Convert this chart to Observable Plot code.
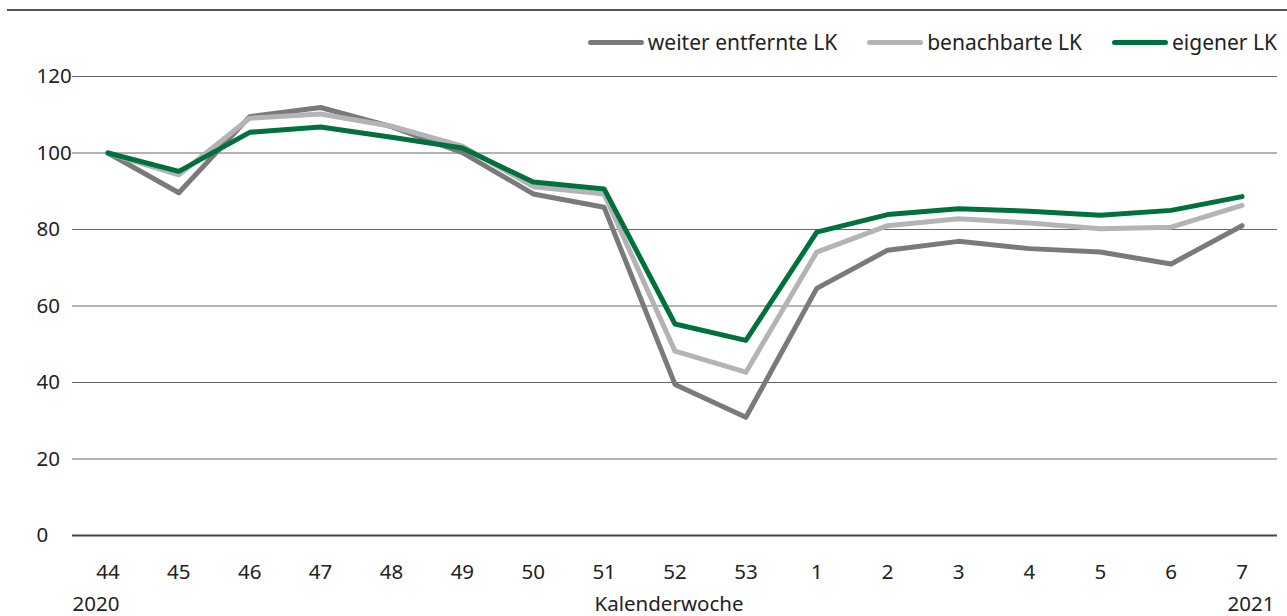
<!DOCTYPE html>
<html>
<head>
<meta charset="utf-8">
<script src="https://cdn.jsdelivr.net/npm/d3@7"></script>
<script src="https://cdn.jsdelivr.net/npm/@observablehq/plot@0.6"></script>
<style>
  html, body { margin: 0; padding: 0; background: #fff; }
  body { width: 1287px; height: 616px; overflow: hidden; font-family: "Noto Sans", sans-serif; color: #222; }
  #head { position: relative; height: 56px; }
  #topline { position: absolute; left: 7px; right: 0; top: 9px; height: 2px; background: #555; }
  #legend { position: absolute; right: 10px; top: 29px; display: flex; align-items: center; font-size: 21px; line-height: 26px; }
  .item { display: flex; align-items: center; margin-left: 30px; }
  .sw { width: 56px; height: 5px; border-radius: 3px; margin-right: 4px; }
  svg { display: block; }
</style>
</head>
<body>
<div id="head"><div id="topline"></div><div id="legend"></div></div>
<div id="chart"></div>
<script>
const weeks = ["44","45","46","47","48","49","50","51","52","53","1","2","3","4","5","6","7"];
const seriesNames = ["weiter entfernte LK", "benachbarte LK", "eigener LK"];
const seriesColors = ["#7a7a7c", "#b4b4b6", "#00703c"];
const weiterEntfernt = [100, 89.6, 109.5, 111.9, 106.9, 100.1, 89.3, 85.8, 39.5, 30.9, 64.6, 74.6, 76.9, 75.0, 74.1, 71.0, 81.0];
const benachbart    = [100, 94.3, 109.1, 110.2, 107.0, 101.8, 91.2, 89.3, 48.2, 42.7, 74.1, 81.0, 82.8, 81.7, 80.2, 80.6, 86.3];
const eigener       = [100, 95.2, 105.4, 106.8, 104.1, 101.3, 92.4, 90.6, 55.3, 51.0, 79.3, 83.9, 85.4, 84.8, 83.7, 85.0, 88.6];
const yTicks = [0, 20, 40, 60, 80, 100, 120];
const yearLabels = ["2020", "2021"];
const axisTitle = "Kalenderwoche";

const values = [weiterEntfernt, benachbart, eigener];
const data = [];
values.forEach((arr, s) => arr.forEach((v, i) => data.push({week: weeks[i], value: v, series: seriesNames[s]})));

// legend
const legend = document.getElementById("legend");
seriesNames.forEach((n, i) => {
  const it = document.createElement("div");
  it.className = "item";
  it.innerHTML = `<span class="sw" style="background:${seriesColors[i]}"></span><span>${n}</span>`;
  legend.appendChild(it);
});

const font = "Noto Sans, sans-serif";
const fs = 20.5;
const chart = Plot.plot({
  width: 1287,
  height: 560,
  marginLeft: 72,
  marginRight: 10,
  marginTop: 20,
  marginBottom: 81,
  style: {fontFamily: font, fontSize: fs + "px", color: "#222", background: "#fff"},
  x: {type: "point", domain: weeks, padding: 0.5, round: false, label: null},
  y: {domain: [0, 120], label: null},
  color: {domain: seriesNames, range: seriesColors},
  marks: [
    Plot.ruleY(yTicks.filter(d => d > 0), {stroke: "#666", strokeWidth: 1}),
    Plot.ruleY([0], {stroke: "#444", strokeWidth: 2}),
    Plot.axisY({ticks: yTicks, tickSize: 0, tickPadding: 36, textAnchor: "start", label: null, fontSize: fs, fill: "#222"}),
    Plot.axisX({tickSize: 0, tickPadding: 29, label: null, fontSize: fs, fill: "#222"}),
    Plot.line(data, {x: "week", y: "value", z: "series", stroke: "series", strokeWidth: 5}),
    Plot.text([yearLabels[0]], {frameAnchor: "bottom-left", text: d => d, dy: 75, textAnchor: "start", lineAnchor: "bottom", fontSize: fs, fill: "#222"}),
    Plot.text([axisTitle], {frameAnchor: "bottom", text: d => d, dy: 75, dx: -6, lineAnchor: "bottom", fontSize: fs, fill: "#222"}),
    Plot.text([yearLabels[1]], {frameAnchor: "bottom-right", text: d => d, dy: 75, dx: -3, textAnchor: "end", lineAnchor: "bottom", fontSize: fs, fill: "#222"})
  ]
});
document.getElementById("chart").appendChild(chart);
</script>
</body>
</html>
